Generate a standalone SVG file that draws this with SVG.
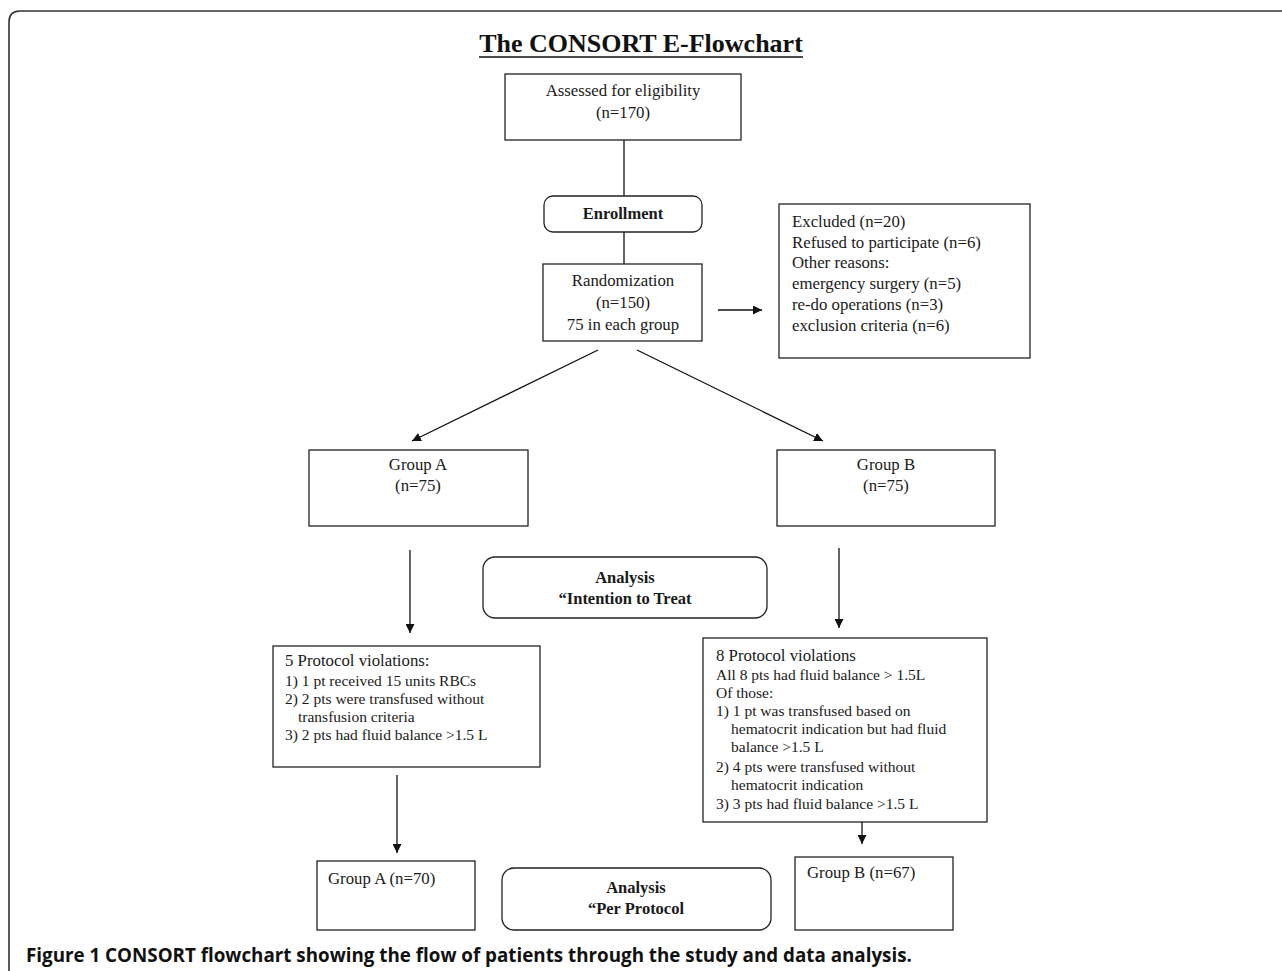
<svg xmlns="http://www.w3.org/2000/svg" width="1282" height="971" viewBox="0 0 1282 971">
<defs>
<marker id="ah" viewBox="0 0 10 10" refX="10" refY="5" markerWidth="9" markerHeight="9" markerUnits="userSpaceOnUse" orient="auto">
<path d="M0,0 L10,5 L0,10 z" fill="#111"/>
</marker>
<style>
.box{fill:#fff;stroke:#222;stroke-width:1.3}
.t{font-family:"Liberation Serif","Times New Roman",serif;font-size:16.8px;fill:#1a1a1a}
.s{font-family:"Liberation Serif","Times New Roman",serif;font-size:15.5px;fill:#1a1a1a}
.b{font-family:"Liberation Serif","Times New Roman",serif;font-size:16.5px;font-weight:bold;fill:#1a1a1a}
.c{text-anchor:middle}
.ln{stroke:#111;stroke-width:1.3;fill:none}
.ar{stroke:#111;stroke-width:1.3;fill:none;marker-end:url(#ah)}
</style>
</defs>
<rect width="1282" height="971" fill="#fff"/>
<path d="M9,971 L9,22 Q9,11 20,11 L1282,11" fill="none" stroke="#333" stroke-width="1.6"/>
<g id="title">
<text x="641" y="52" class="c" font-family="Liberation Serif,serif" font-size="26" font-weight="bold" fill="#111">The CONSORT E-Flowchart</text>
<line x1="479" y1="57" x2="803" y2="57" stroke="#111" stroke-width="1.6"/>
</g>
<g id="connectors">
<line class="ln" x1="624" y1="140" x2="624" y2="196"/>
<line class="ln" x1="624" y1="232" x2="624" y2="264"/>
<line class="ar" x1="718" y1="310" x2="762" y2="310"/>
<line class="ar" x1="598" y1="350" x2="412" y2="441"/>
<line class="ar" x1="637" y1="350" x2="823" y2="441"/>
<line class="ar" x1="410" y1="550" x2="410" y2="633"/>
<line class="ar" x1="839" y1="548" x2="839" y2="628"/>
<line class="ar" x1="397" y1="775" x2="397" y2="853"/>
<line class="ar" x1="862" y1="822" x2="862" y2="844"/>
</g>
<g id="assessed">
<rect class="box" x="505" y="74" width="236" height="66"/>
<text class="t c" x="623" y="96">Assessed for eligibility</text>
<text class="t c" x="623" y="118">(n=170)</text>
</g>
<g id="enrollment">
<rect class="box" x="544" y="196" width="158" height="36" rx="9"/>
<text class="b c" x="623" y="219">Enrollment</text>
</g>
<g id="randomization">
<rect class="box" x="543" y="264" width="159" height="77"/>
<text class="t c" x="623" y="286">Randomization</text>
<text class="t c" x="623" y="308">(n=150)</text>
<text class="t c" x="623" y="330">75 in each group</text>
</g>
<g id="excluded">
<rect class="box" x="779" y="204" width="251" height="154"/>
<text class="t" x="792" y="227">Excluded (n=20)</text>
<text class="t" x="792" y="248">Refused to participate (n=6)</text>
<text class="t" x="792" y="268">Other reasons:</text>
<text class="t" x="792" y="289">emergency surgery (n=5)</text>
<text class="t" x="792" y="310">re-do operations (n=3)</text>
<text class="t" x="792" y="331">exclusion criteria (n=6)</text>
</g>
<g id="groupA">
<rect class="box" x="309" y="450" width="219" height="76"/>
<text class="t c" x="418" y="470">Group A</text>
<text class="t c" x="418" y="491">(n=75)</text>
</g>
<g id="groupB">
<rect class="box" x="777" y="450" width="218" height="76"/>
<text class="t c" x="886" y="470">Group B</text>
<text class="t c" x="886" y="491">(n=75)</text>
</g>
<g id="itt">
<rect class="box" x="483" y="557" width="284" height="61" rx="12"/>
<text class="b c" x="625" y="583">Analysis</text>
<text class="b c" x="625" y="604">“Intention to Treat</text>
</g>
<g id="protocolA">
<rect class="box" x="273" y="646" width="267" height="121"/>
<text class="t" x="285" y="666">5 Protocol violations:</text>
<text class="s" x="285" y="686">1) 1 pt received 15 units RBCs</text>
<text class="s" x="285" y="704">2) 2 pts were transfused without</text>
<text class="s" x="298" y="722">transfusion criteria</text>
<text class="s" x="285" y="740">3) 2 pts had fluid balance &gt;1.5 L</text>
</g>
<g id="protocolB">
<rect class="box" x="703" y="638" width="284" height="184"/>
<text class="t" x="716" y="661">8 Protocol violations</text>
<text class="s" x="716" y="680">All 8 pts had fluid balance &gt; 1.5L</text>
<text class="s" x="716" y="698">Of those:</text>
<text class="s" x="716" y="716">1) 1 pt was transfused based on</text>
<text class="s" x="731" y="734">hematocrit indication but had fluid</text>
<text class="s" x="731" y="752">balance &gt;1.5 L</text>
<text class="s" x="716" y="772">2) 4 pts were transfused without</text>
<text class="s" x="731" y="790">hematocrit indication</text>
<text class="s" x="716" y="809">3) 3 pts had fluid balance &gt;1.5 L</text>
</g>
<g id="groupA70">
<rect class="box" x="317" y="861" width="158" height="69"/>
<text class="t" x="328" y="884">Group A (n=70)</text>
</g>
<g id="pp">
<rect class="box" x="502" y="868" width="269" height="62" rx="12"/>
<text class="b c" x="636" y="893">Analysis</text>
<text class="b c" x="636" y="914">“Per Protocol</text>
</g>
<g id="groupB67">
<rect class="box" x="795" y="857" width="158" height="73"/>
<text class="t" x="807" y="878">Group B (n=67)</text>
</g>
<g id="caption">
<text x="26" y="962" font-family="Open Sans,Liberation Sans,sans-serif" font-size="18.8" font-weight="bold" fill="#111">Figure 1 CONSORT flowchart showing the flow of patients through the study and data analysis.</text>
</g>
</svg>
